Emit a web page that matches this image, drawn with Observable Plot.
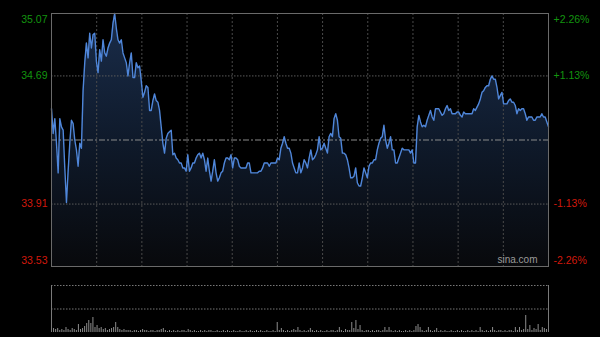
<!DOCTYPE html>
<html>
<head>
<meta charset="utf-8">
<script src="https://cdn.jsdelivr.net/npm/d3@7"></script>
<script src="https://cdn.jsdelivr.net/npm/@observablehq/plot@0.6"></script>
<style>
  html, body { margin: 0; padding: 0; background: #000; width: 600px; height: 337px; overflow: hidden; }
  #chart svg { display: block; }
</style>
</head>
<body>
<div id="chart"></div>
<script>
// Intraday price samples (left to right)
const prices = [
  34.49,34.34,34.43,34.28,34.10,34.43,34.38,34.36,34.13,33.92,
  34.11,34.28,34.42,34.40,34.30,34.24,34.14,34.28,34.25,34.60,
  34.77,34.89,34.80,34.95,34.86,34.94,34.95,34.78,34.71,34.85,
  34.78,34.91,34.83,34.81,34.86,34.89,34.91,35.01,35.07,34.98,
  34.91,34.89,34.91,34.83,34.80,34.77,34.69,34.77,34.83,34.68,
  34.68,34.77,34.74,34.75,34.66,34.56,34.59,34.63,34.62,34.48,
  34.48,34.54,34.58,34.54,34.53,34.48,34.38,34.28,34.22,34.31,
  34.34,34.35,34.36,
  34.21,34.22,34.19,34.18,34.16,34.16,34.13,34.13,34.11,34.21,
  34.11,34.13,34.16,34.16,34.19,34.21,34.22,34.19,34.22,34.18,
  34.11,34.19,34.11,34.05,34.11,34.18,34.10,34.05,34.07,34.10,
  34.11,34.16,34.19,34.19,34.18,34.21,34.13,34.19,34.19,34.18,
  34.14,34.13,34.13,34.13,34.13,34.16,34.16,34.10,34.10,34.10,
  34.10,34.10,34.11,34.11,34.13,34.16,34.16,34.16,34.14,34.16,
  34.16,34.16,34.16,34.19,34.18,34.25,34.28,34.32,34.28,34.25,
  34.25,34.22,34.16,34.13,34.10,34.10,
  34.16,34.10,34.13,34.18,34.16,34.13,34.19,34.24,34.18,34.19,
  34.21,34.24,34.32,34.24,34.25,34.28,34.25,34.22,34.32,34.34,
  34.32,34.43,34.46,34.42,34.32,34.31,34.22,34.22,34.21,34.18,
  34.13,34.07,34.07,34.08,34.13,34.04,34.02,34.02,34.07,34.13,
  34.10,34.07,34.14,34.16,34.16,34.18,34.18,34.24,34.28,34.31,
  34.32,34.39,34.30,34.25,34.28,34.32,34.24,34.24,34.16,34.16,
  34.19,34.22,34.25,34.24,34.24,34.24,34.24,34.22,34.24,34.16,
  34.16,34.38,34.45,
  34.41,34.38,34.39,34.38,34.42,34.45,34.48,34.44,34.42,34.49,
  34.49,34.49,34.47,34.45,34.46,34.49,34.51,34.48,34.49,34.46,
  34.46,34.46,34.47,34.47,34.45,34.44,34.47,34.46,34.46,34.46,
  34.46,34.46,34.49,34.48,34.50,34.52,34.55,34.59,34.60,34.62,
  34.63,34.63,34.67,34.69,34.67,34.67,34.62,34.55,34.57,34.59,
  34.52,34.52,34.52,34.54,34.55,34.53,34.53,34.51,34.46,34.49,
  34.48,34.49,34.49,34.46,34.42,34.44,34.44,34.44,34.42,34.42,
  34.44,34.44,34.44,34.46,34.44,34.44,34.41,34.38
];

// Per-minute volume (relative units)
const volumes = [
  16,4,3,4,2,3,2,5,3,2,
  4,3,2,8,3,4,6,9,12,9,
  15,5,7,4,5,3,4,2,3,4,
  5,10,5,3,2,3,2,2,2,1,
  2,2,1,2,3,2,2,1,2,2,
  1,2,2,3,4,2,1,2,1,2,
  1,2,1,2,2,1,3,2,1,2,
  1,1,2,1,2,1,2,2,1,1,
  2,1,1,2,1,2,1,1,2,1,
  1,2,1,1,2,1,2,1,1,2,
  1,2,1,1,2,1,1,2,1,10,
  2,4,2,1,2,1,2,3,2,5,
  2,1,2,1,2,4,2,1,2,1,
  2,1,1,2,1,2,2,1,2,5,
  2,1,3,2,2,10,4,12,3,7,
  2,1,2,2,1,2,1,2,2,1,
  2,5,2,5,2,1,2,1,2,1,
  1,2,1,2,1,2,6,8,5,2,
  1,2,5,2,1,2,4,1,2,1,
  2,1,1,2,1,1,2,1,2,1,
  1,2,1,2,1,2,1,5,2,1,
  2,1,2,5,2,1,2,2,1,2,
  1,2,2,1,5,2,5,2,3,17,
  3,7,2,4,3,8,2,5,4,3,
  2
];
const volumeMax = 47;

const priceLevels = [35.07, 34.69, 33.91, 33.53];
const priceLabels = ["35.07", "34.69", "33.91", "33.53"];
const pctLabels = ["+2.26%", "+1.13%", "-1.13%", "-2.26%"];
const prevClose = 34.30;
const gridDivisions = 11;
const watermark = "sina.com";

const UP = "#13940f";
const DOWN = "#d2190c";
const FONT = "'Liberation Sans', Arial, sans-serif";

const n = prices.length;
const yMin = d3.min(priceLevels), yMax = d3.max(priceLevels);

function labelMarks(idx, color, dy) {
  const rows = idx.map(i => ({level: priceLevels[i], left: priceLabels[i], right: pctLabels[i]}));
  return [
    Plot.text(rows, {y: "level", text: "left", frameAnchor: "left", textAnchor: "end", dx: -4, dy, fill: color}),
    Plot.text(rows, {y: "level", text: "right", frameAnchor: "right", textAnchor: "start", dx: 5, dy, fill: color})
  ];
}

const main = Plot.plot({
  width: 600,
  height: 270,
  marginLeft: 51,
  marginRight: 52,
  marginTop: 13,
  marginBottom: 4,
  style: {background: "#000", fontFamily: FONT, fontSize: "10.5px"},
  x: {domain: [0, n - 1], axis: null},
  y: {domain: [yMin, yMax], axis: null},
  marks: [
    Plot.areaY(prices, {x: (d, i) => i, y1: () => yMin, y2: d => d, fill: "url(#areaGrad)"}),
    Plot.ruleX(d3.range(1, gridDivisions).map(j => j * (n - 1) / gridDivisions), {stroke: "#4a4a4a", strokeDasharray: "2,2"}),
    Plot.ruleY(priceLevels.filter(v => v > yMin && v < yMax), {stroke: "#5a5a5a", strokeDasharray: "1.5,1.5"}),
    Plot.ruleY([prevClose], {stroke: "#8a8a8a", strokeDasharray: "6,2,2,2"}),
    Plot.lineY(prices, {x: (d, i) => i, y: d => d, stroke: "#4f86d9", strokeWidth: 1.4}),
    Plot.frame({stroke: "#6a6a6a"}),
    Plot.text([watermark], {frameAnchor: "bottom-right", textAnchor: "end", dx: -11, dy: -4, fill: "#9a9a9a", fontSize: 10}),
    ...labelMarks([0], UP, 6),
    ...labelMarks([1], UP, 0),
    ...labelMarks([2], DOWN, 0),
    ...labelMarks([3], DOWN, -6)
  ]
});

d3.select(main).insert("defs", ":first-child").html(
  '<linearGradient id="areaGrad" x1="0" y1="0" x2="0" y2="1">' +
  '<stop offset="0%" stop-color="#1a2d4b"/>' +
  '<stop offset="50%" stop-color="#0f1a2b"/>' +
  '<stop offset="100%" stop-color="#08090c"/>' +
  '</linearGradient>'
);

const vol = Plot.plot({
  width: 600,
  height: 67,
  marginLeft: 51,
  marginRight: 52,
  marginTop: 15,
  marginBottom: 5,
  style: {background: "#000", fontFamily: FONT},
  x: {domain: [0, volumes.length - 1], axis: null},
  y: {domain: [0, volumeMax], axis: null},
  marks: [
    Plot.ruleY([volumeMax, volumeMax / 2], {stroke: "#777", strokeDasharray: "1.5,1.5"}),
    Plot.ruleX(volumes, {x: (d, i) => i, y1: () => 0, y2: d => d, stroke: "#8c8c8c", strokeWidth: 1}),
    Plot.ruleX([0, volumes.length - 1], {stroke: "#7a7a7a"})
  ]
});

document.getElementById("chart").append(main, vol);
</script>
</body>
</html>
